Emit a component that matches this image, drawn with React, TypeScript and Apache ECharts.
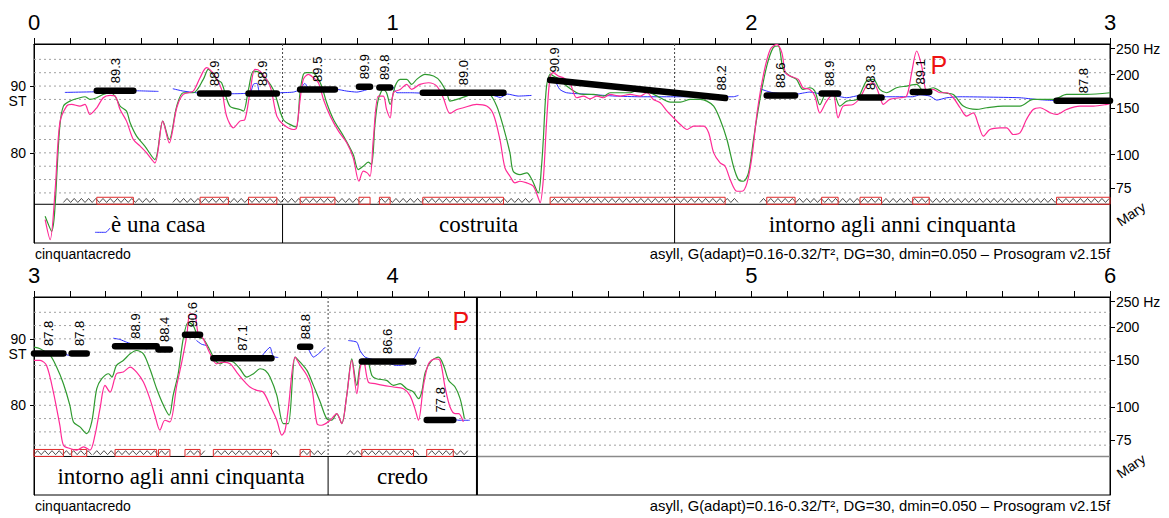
import { useEffect, useRef } from "react";
import * as echarts from "echarts";

type Pt = [number, number];

const ST_MIN = 66.5;
const ST_MAX = 96.3;
const TIER_TOP = 72.3;
const hzTicks = [75, 100, 150, 200, 250];
const stLabels = [80, 90];
const gridLevels = [74, 76, 78, 80, 82, 84, 86, 88, 90, 92, 94];
const timeLabels1 = [0, 1, 2, 3];
const timeLabels2 = [3, 4, 5, 6];

// ---------- panel 1 (0 - 3 s) ----------
const green1: Pt[] = [
  [0.031, 70.5], [0.049, 68.25], [0.072, 84.0], [0.082, 87.0], [0.1, 87.75], [0.128, 88.25], [0.142, 88.4], [0.156, 88.0],
  [0.175, 88.25], [0.193, 88.75], [0.212, 89.0], [0.226, 88.5], [0.24, 87.0], [0.258, 86.25], [0.268, 84.5], [0.286, 82.5],
  [0.309, 81.0], [0.337, 79.0], [0.359, 84.75], [0.377, 82.0], [0.398, 87.0], [0.416, 89.0], [0.444, 89.0], [0.472, 91.0],
  [0.486, 92.5], [0.509, 91.0], [0.523, 90.5], [0.546, 87.0], [0.574, 86.5], [0.584, 86.25], [0.598, 89.5], [0.612, 92.25],
  [0.63, 92.0], [0.667, 89.5], [0.695, 85.0], [0.723, 84.0], [0.732, 83.9], [0.742, 89.2], [0.751, 91.75], [0.76, 92.0],
  [0.774, 92.0], [0.788, 91.5], [0.802, 90.0], [0.816, 87.5], [0.835, 85.0], [0.863, 82.5], [0.89, 79.75], [0.904, 77.5],
  [0.918, 78.0], [0.932, 78.6], [0.941, 78.25], [0.951, 84.5], [0.96, 88.0], [0.974, 89.5], [0.983, 89.0], [0.993, 87.25],
  [1.007, 90.0], [1.021, 91.0], [1.039, 91.0], [1.053, 90.25], [1.067, 91.0], [1.09, 91.75], [1.114, 91.5], [1.132, 90.75],
  [1.151, 89.0], [1.16, 87.75], [1.179, 88.0], [1.206, 88.5], [1.243, 89.25], [1.271, 88.75], [1.29, 87.0], [1.308, 84.0],
  [1.327, 80.0], [1.336, 77.25], [1.355, 76.75], [1.374, 77.0], [1.388, 76.0], [1.406, 74.0], [1.415, 78.0], [1.42, 82.0],
  [1.429, 90.0], [1.44, 91.8], [1.448, 91.5], [1.466, 91.0], [1.485, 90.0], [1.513, 89.0], [1.532, 88.75], [1.56, 88.75],
  [1.588, 88.5], [1.606, 89.0], [1.634, 89.0], [1.662, 89.0], [1.69, 89.5], [1.718, 89.0], [1.746, 88.25], [1.774, 87.6],
  [1.802, 87.6], [1.83, 88.0], [1.858, 88.0], [1.876, 87.75], [1.895, 87.0], [1.913, 85.0], [1.932, 82.0], [1.95, 78.0],
  [1.964, 76.0], [1.978, 75.75], [1.992, 77.0], [2.006, 82.0], [2.024, 88.0], [2.043, 93.0], [2.061, 95.75], [2.075, 96.0],
  [2.089, 92.5], [2.108, 91.5], [2.126, 91.0], [2.144, 89.5], [2.163, 89.75], [2.177, 89.25], [2.191, 87.2], [2.21, 89.0],
  [2.228, 89.0], [2.247, 87.0], [2.266, 87.75], [2.294, 88.0], [2.321, 90.75], [2.34, 91.0], [2.358, 89.5], [2.377, 89.0],
  [2.405, 89.75], [2.433, 90.0], [2.461, 90.25], [2.48, 89.25], [2.507, 89.75], [2.535, 89.0], [2.563, 88.75], [2.591, 87.0],
  [2.628, 86.5], [2.656, 86.75], [2.702, 87.0], [2.749, 87.0], [2.786, 88.0], [2.842, 88.0], [2.879, 88.75], [2.935, 88.75],
  [3.0, 89.0],
];

const pink1: Pt[] = [
  [0.031, 70.0], [0.045, 67.0], [0.059, 74.5], [0.072, 84.5], [0.091, 87.0], [0.105, 87.25], [0.128, 87.0], [0.142, 87.25],
  [0.156, 85.75], [0.175, 86.75], [0.193, 88.25], [0.212, 88.6], [0.226, 88.5], [0.24, 86.5], [0.258, 84.75], [0.277, 82.0],
  [0.296, 81.0], [0.314, 80.0], [0.337, 78.5], [0.359, 84.75], [0.377, 81.5], [0.398, 86.75], [0.416, 88.75], [0.444, 89.25],
  [0.463, 91.25], [0.481, 92.75], [0.505, 91.5], [0.523, 89.5], [0.537, 85.5], [0.556, 83.75], [0.574, 84.75], [0.588, 85.0],
  [0.602, 89.0], [0.616, 92.5], [0.63, 92.25], [0.658, 90.0], [0.677, 85.5], [0.695, 84.25], [0.723, 83.5], [0.732, 83.75],
  [0.742, 88.0], [0.751, 91.0], [0.765, 91.75], [0.779, 91.25], [0.793, 90.5], [0.807, 88.0], [0.826, 85.5], [0.849, 83.25],
  [0.872, 81.5], [0.89, 79.25], [0.906, 75.75], [0.918, 77.25], [0.929, 77.0], [0.937, 76.5], [0.946, 82.0], [0.96, 88.5],
  [0.974, 88.5], [0.983, 86.5], [0.993, 85.25], [1.002, 89.0], [1.021, 89.5], [1.039, 90.25], [1.053, 89.5], [1.076, 90.25],
  [1.1, 90.5], [1.123, 90.0], [1.141, 88.25], [1.16, 85.9], [1.179, 86.5], [1.197, 86.75], [1.234, 87.25], [1.262, 87.0],
  [1.281, 85.75], [1.299, 82.0], [1.313, 77.75], [1.327, 76.5], [1.341, 75.5], [1.355, 75.75], [1.374, 75.5], [1.392, 75.0],
  [1.406, 73.25], [1.411, 72.5], [1.42, 76.0], [1.429, 84.5], [1.439, 91.5], [1.448, 92.0], [1.462, 91.5], [1.476, 91.25],
  [1.494, 90.5], [1.513, 88.25], [1.532, 88.5], [1.55, 88.1], [1.569, 88.5], [1.588, 88.25], [1.606, 88.75], [1.634, 88.5],
  [1.662, 88.75], [1.69, 88.5], [1.709, 89.0], [1.727, 88.0], [1.746, 87.5], [1.765, 86.25], [1.783, 85.25], [1.802, 84.25],
  [1.821, 83.5], [1.839, 84.0], [1.867, 84.0], [1.881, 83.0], [1.895, 80.0], [1.913, 78.5], [1.927, 78.0], [1.941, 76.0],
  [1.96, 74.25], [1.974, 74.25], [1.988, 75.5], [2.002, 79.5], [2.016, 86.0], [2.035, 92.0], [2.053, 95.5], [2.071, 96.25],
  [2.085, 95.0], [2.095, 92.0], [2.108, 91.5], [2.131, 91.0], [2.144, 89.75], [2.163, 89.5], [2.177, 88.5], [2.191, 86.0],
  [2.21, 87.75], [2.228, 88.75], [2.242, 85.25], [2.256, 87.0], [2.284, 87.25], [2.303, 88.25], [2.321, 90.0], [2.34, 90.5],
  [2.358, 88.5], [2.368, 87.25], [2.386, 88.0], [2.414, 88.25], [2.433, 88.5], [2.447, 92.0], [2.461, 95.25], [2.475, 93.0],
  [2.489, 89.25], [2.507, 89.5], [2.526, 89.0], [2.545, 89.0], [2.563, 88.25], [2.582, 86.75], [2.6, 85.5], [2.619, 86.0],
  [2.633, 84.25], [2.647, 82.5], [2.665, 83.5], [2.693, 83.75], [2.712, 83.75], [2.73, 82.75], [2.749, 83.0], [2.767, 85.0],
  [2.786, 86.5], [2.805, 86.75], [2.833, 86.0], [2.851, 85.75], [2.879, 86.5], [2.916, 87.0], [2.954, 87.0], [2.991, 87.25],
  [3.0, 87.4],
];

const blue1A: Pt[] = [[0.086, 89.05], [0.175, 89.15], [0.277, 89.3], [0.347, 89.2]];
const blue1Tier: Pt[] = [[0.17, 68.1], [0.2, 68.1], [0.212, 68.75]];
const blue1B: Pt[] = [
  [0.387, 89.6], [0.416, 89.25], [0.453, 89.0], [0.5, 88.9], [0.546, 88.85], [0.602, 89.0], [0.612, 90.3], [0.622, 90.4],
  [0.63, 89.0], [0.677, 89.0], [0.723, 89.1], [0.742, 89.5], [0.755, 90.4], [0.769, 89.5], [0.844, 89.5], [0.872, 89.25],
  [0.9, 89.1], [0.937, 89.6],
];
const blue1C: Pt[] = [
  [0.96, 89.7], [0.983, 89.9], [0.998, 90.0], [1.012, 89.0], [1.05, 89.0], [1.1, 88.9], [1.2, 88.8], [1.28, 88.6],
  [1.3, 88.3], [1.32, 88.8], [1.35, 88.5], [1.387, 88.6],
];
const blue1D: Pt[] = [
  [1.439, 91.0], [1.452, 90.8], [1.466, 89.5], [1.485, 89.0], [1.55, 88.75], [1.62, 88.5], [1.69, 88.4], [1.783, 88.4],
  [1.88, 88.4], [1.95, 88.4], [1.964, 88.6],
];
const blue1E: Pt[] = [
  [2.024, 89.6], [2.043, 89.25], [2.061, 89.0], [2.121, 88.75], [2.149, 89.0], [2.163, 89.1], [2.2, 88.75], [2.238, 88.5],
  [2.266, 88.25], [2.303, 88.6], [2.377, 88.4], [2.45, 88.4], [2.47, 88.7], [2.498, 88.5], [2.517, 87.9], [2.545, 88.25],
  [2.582, 88.4], [2.656, 88.35], [2.749, 88.25], [2.795, 88.0], [2.842, 87.85], [2.916, 87.9], [3.0, 87.9],
];

// nuclei: [start, end, value at start, value at end] (ST)
const nuclei1: number[][] = [
  [0.175, 0.277, 89.3, 89.3], [0.463, 0.542, 88.9, 88.9], [0.598, 0.677, 88.9, 88.9], [0.742, 0.839, 89.5, 89.5],
  [0.906, 0.937, 89.9, 89.9], [0.963, 0.993, 89.8, 89.8], [1.084, 1.309, 89.0, 89.0], [1.439, 1.927, 90.9, 88.2],
  [2.043, 2.122, 88.6, 88.6], [2.196, 2.242, 88.9, 88.9], [2.303, 2.363, 88.3, 88.3], [2.45, 2.496, 89.1, 89.1],
  [2.851, 3.0, 87.8, 87.8],
];
const voiced1: number[][] = [[0.082, 0.347], [0.387, 0.928], [0.959, 1.391], [1.441, 1.963], [2.024, 3.0]];
const words1: [number, number, string][] = [
  [0, 0.693, "è una casa"], [0.693, 1.786, "costruita"], [1.786, 3.0, "intorno agli anni cinquanta"],
];
const marks1: Pt[] = [[2.523, 93.2]];

// ---------- panel 2 (3 - 6 s) ----------
const green2: Pt[] = [
  [3.0, 88.75], [3.017, 88.5], [3.045, 87.5], [3.063, 85.75], [3.082, 83.25], [3.1, 80.0], [3.11, 77.5], [3.128, 76.75],
  [3.147, 75.75], [3.161, 77.5], [3.175, 82.5], [3.189, 84.0], [3.208, 84.75], [3.217, 84.25], [3.23, 86.0], [3.249, 86.75],
  [3.268, 87.75], [3.286, 88.25], [3.305, 87.75], [3.323, 85.5], [3.342, 82.5], [3.361, 80.0], [3.377, 78.5], [3.388, 81.5],
  [3.402, 84.75], [3.416, 90.0], [3.43, 92.5], [3.444, 92.0], [3.458, 90.25], [3.472, 90.0], [3.491, 88.25], [3.505, 86.75],
  [3.519, 86.25], [3.537, 86.75], [3.556, 86.5], [3.574, 85.5], [3.593, 84.25], [3.612, 84.75], [3.63, 85.5], [3.645, 85.25],
  [3.658, 84.25], [3.677, 81.5], [3.695, 77.25], [3.709, 77.25], [3.728, 87.25], [3.742, 86.5], [3.761, 85.25], [3.779, 83.0],
  [3.798, 80.5], [3.816, 78.0], [3.83, 77.75], [3.844, 78.75], [3.858, 77.25], [3.872, 81.5], [3.886, 87.0], [3.9, 83.0],
  [3.909, 86.0], [3.918, 86.75], [3.928, 87.0], [3.942, 84.5], [3.955, 84.0], [3.983, 83.75], [4.002, 83.0], [4.021, 83.25],
  [4.039, 82.5], [4.058, 82.0], [4.072, 81.0], [4.081, 82.0], [4.091, 85.0], [4.109, 86.75], [4.128, 87.25], [4.142, 86.0],
  [4.156, 83.75], [4.174, 82.75], [4.188, 81.0], [4.2, 78.0],
];
const pink2: Pt[] = [
  [3.0, 86.75], [3.017, 86.75], [3.035, 86.0], [3.054, 82.0], [3.072, 77.0], [3.082, 74.0], [3.1, 73.5], [3.119, 73.25],
  [3.138, 73.75], [3.156, 73.25], [3.17, 75.5], [3.184, 79.5], [3.198, 83.0], [3.212, 82.0], [3.23, 84.75], [3.249, 85.0],
  [3.268, 85.75], [3.286, 85.0], [3.305, 83.5], [3.323, 81.0], [3.337, 78.5], [3.351, 76.25], [3.365, 77.75], [3.379, 77.5],
  [3.398, 83.0], [3.412, 86.5], [3.426, 90.5], [3.435, 93.75], [3.449, 93.5], [3.458, 90.75], [3.472, 90.0], [3.491, 87.75],
  [3.509, 86.25], [3.528, 86.5], [3.547, 86.25], [3.565, 85.0], [3.584, 83.75], [3.602, 82.75], [3.621, 82.25], [3.639, 82.0],
  [3.658, 80.0], [3.677, 77.75], [3.691, 75.5], [3.7, 76.25], [3.709, 79.5], [3.728, 87.25], [3.742, 86.0], [3.761, 84.5],
  [3.775, 82.5], [3.789, 77.25], [3.802, 77.0], [3.826, 77.75], [3.844, 78.75], [3.858, 77.25], [3.872, 81.5], [3.886, 86.75],
  [3.9, 81.75], [3.909, 85.5], [3.918, 87.0], [3.932, 83.5], [3.951, 83.25], [3.974, 83.0], [4.002, 82.75], [4.03, 82.5],
  [4.048, 81.5], [4.062, 79.5], [4.072, 77.75], [4.086, 83.0], [4.1, 86.25], [4.118, 87.0], [4.132, 86.75], [4.146, 82.75],
  [4.16, 79.75], [4.174, 78.75], [4.184, 78.75], [4.197, 77.5],
];
const blue2A: Pt[] = [[3.08, 87.8], [3.1, 87.5], [3.115, 87.8]];
const blue2B: Pt[] = [[3.221, 90.1], [3.24, 89.9], [3.258, 89.5], [3.286, 89.0], [3.314, 88.5], [3.328, 88.75], [3.342, 88.65]];
const blue2C: Pt[] = [[3.453, 89.75], [3.467, 89.2], [3.481, 89.0]];
const blue2D: Pt[] = [[3.5, 87.1], [3.63, 87.2], [3.644, 88.0], [3.658, 88.75], [3.667, 87.35], [3.681, 87.2]];
const blue2E: Pt[] = [[3.765, 88.5], [3.779, 87.25], [3.793, 87.75], [3.812, 88.75]];
const blue2F: Pt[] = [
  [3.876, 89.75], [3.9, 89.5], [3.909, 88.25], [3.923, 87.25], [3.955, 86.75], [3.993, 86.25], [4.011, 86.0], [4.035, 86.1],
  [4.048, 86.5], [4.062, 87.25], [4.076, 88.75],
];
const blue2G: Pt[] = [[4.169, 77.9], [4.185, 77.75], [4.215, 77.75]];
const nuclei2: number[][] = [
  [3.0, 3.082, 87.8, 87.8], [3.105, 3.147, 87.8, 87.8], [3.226, 3.342, 88.9, 88.9], [3.347, 3.379, 88.4, 88.4],
  [3.421, 3.463, 90.6, 90.6], [3.5, 3.662, 87.1, 87.1], [3.742, 3.77, 88.8, 88.8], [3.914, 4.058, 86.6, 86.6],
  [4.095, 4.169, 77.8, 77.8],
];
const voiced2: number[][] = [[3.0, 3.161], [3.165, 3.379], [3.426, 3.486], [3.502, 3.686], [3.741, 3.816], [3.872, 4.076], [4.099, 4.211]];
const words2: [number, number, string][] = [[3.0, 3.82, "intorno agli anni cinquanta"], [3.82, 4.235, "credo"]];
const marks2: Pt[] = [[4.19, 92.7]];

const GREEN = "#2f9a2f";
const PINK = "#ff2a96";
const BLUE = "#2b2bff";
const SANS = '"Liberation Sans", Arial, sans-serif';
const SERIF = '"Liberation Serif", "Times New Roman", serif';
const W = 1169;
const H = 518;

const hzToSt = (hz: number) => 12 * Math.log2(hz);

interface Panel {
  start: number;
  end: number;
  signalEnd: number;
  timeLabels: number[];
  green: Pt[];
  pink: Pt[];
  blue: Pt[][];
  nuclei: number[][];
  voiced: number[][];
  words: [number, number, string][];
  marks: Pt[];
}

const panels: Panel[] = [
  {
    start: 0, end: 3, signalEnd: 3, timeLabels: timeLabels1, green: green1, pink: pink1,
    blue: [blue1A, blue1Tier, blue1B, blue1C, blue1D, blue1E], nuclei: nuclei1, voiced: voiced1, words: words1, marks: marks1,
  },
  {
    start: 3, end: 6, signalEnd: 4.235, timeLabels: timeLabels2, green: green2, pink: pink2,
    blue: [blue2A, blue2B, blue2C, blue2D, blue2E, blue2F, blue2G], nuclei: nuclei2, voiced: voiced2, words: words2, marks: marks2,
  },
];

const gridBoxes = [
  { left: 34, top: 44, width: 1076, height: 199 },
  { left: 34, top: 297, width: 1076, height: 198 },
];

function buildOption() {
  const grid: any[] = [];
  const xAxis: any[] = [];
  const yAxis: any[] = [];
  const series: any[] = [];

  panels.forEach((p, i) => {
    grid.push({ ...gridBoxes[i], show: true, borderColor: "#000", borderWidth: 1, backgroundColor: "transparent" });
    xAxis.push({
      gridIndex: i, type: "value", position: "top", min: p.start, max: p.end, interval: 0.1,
      axisLine: { show: true, lineStyle: { color: "#000", width: 1 } },
      axisTick: { show: true, inside: false, length: 6, lineStyle: { color: "#000", width: 1 } },
      axisLabel: {
        customValues: p.timeLabels, formatter: (v: number) => String(Math.round(v)),
        fontSize: 22, color: "#000", margin: 11, fontFamily: SANS, showMinLabel: true, showMaxLabel: true,
      },
      splitLine: { show: false },
    });
    yAxis.push({
      gridIndex: i, type: "value", position: "left", min: ST_MIN, max: ST_MAX,
      axisLine: { show: true, lineStyle: { color: "#000" } },
      axisTick: { show: true, customValues: stLabels, length: 4, lineStyle: { color: "#000" } },
      axisLabel: { customValues: stLabels, formatter: (v: number) => String(Math.round(v)), fontSize: 14, color: "#000", margin: 8, fontFamily: SANS },
      splitLine: { show: false },
    });
    const hzSt = hzTicks.map(hzToSt);
    yAxis.push({
      gridIndex: i, type: "value", position: "right", min: ST_MIN, max: ST_MAX,
      axisLine: { show: true, lineStyle: { color: "#000" } },
      axisTick: { show: true, customValues: hzSt, length: 5, lineStyle: { color: "#000" } },
      axisLabel: {
        customValues: hzSt,
        formatter: (v: number) => {
          const hz = Math.round(Math.pow(2, v / 12));
          return hz === 250 ? "250 Hz" : String(hz);
        },
        fontSize: 14, color: "#000", margin: 6, fontFamily: SANS,
      },
      splitLine: { show: false },
    });

    const ax = { xAxisIndex: i, yAxisIndex: 2 * i };

    // dotted horizontal grid lines
    series.push({
      type: "custom", ...ax, silent: true, z: 1,
      data: gridLevels.map((v) => [p.start, v]),
      renderItem: (params: any, api: any) => {
        const cs = params.coordSys;
        const y = api.coord([api.value(0), api.value(1)])[1];
        return {
          type: "line", shape: { x1: cs.x, y1: y, x2: cs.x + cs.width, y2: y },
          style: { stroke: "#a0a0a0", lineWidth: 1, lineDash: [2, 3] },
        };
      },
    });

    // tier separator line
    series.push({
      type: "custom", ...ax, silent: true, z: 3,
      data: [[p.start, TIER_TOP, p.signalEnd]],
      renderItem: (params: any, api: any) => {
        const cs = params.coordSys;
        const a = api.coord([api.value(0), api.value(1)]);
        const e = api.coord([api.value(2), api.value(1)]);
        const children: any[] = [
          { type: "line", shape: { x1: cs.x, y1: a[1], x2: e[0], y2: a[1] }, style: { stroke: "#000", lineWidth: 1 } },
        ];
        if (e[0] < cs.x + cs.width - 1) {
          children.push({ type: "line", shape: { x1: e[0], y1: a[1], x2: cs.x + cs.width, y2: a[1] }, style: { stroke: "#8a8a8a", lineWidth: 1.5 } });
        }
        return { type: "group", children };
      },
    });

    // tier words and boundaries
    series.push({
      type: "custom", ...ax, silent: true, z: 3,
      data: p.words.map((w, k) => [w[0], w[1], k]),
      renderItem: (params: any, api: any) => {
        const cs = params.coordSys;
        const t0 = api.value(0);
        const t1 = api.value(1);
        const k = api.value(2);
        const a = api.coord([t0, TIER_TOP]);
        const b = api.coord([t1, ST_MIN]);
        const children: any[] = [
          {
            type: "text", x: (a[0] + b[0]) / 2, y: (a[1] + b[1]) / 2 + 1,
            style: { text: p.words[k][2], fill: "#000", fontSize: 23, fontFamily: SERIF, align: "center", verticalAlign: "middle" },
          },
        ];
        if (t1 < p.end - 1e-6 && t1 < p.signalEnd - 1e-6) {
          children.push({ type: "line", shape: { x1: b[0], y1: a[1], x2: b[0], y2: b[1] }, style: { stroke: "#000", lineWidth: 1 } });
          children.push({ type: "line", shape: { x1: b[0], y1: cs.y, x2: b[0], y2: a[1] }, style: { stroke: "#444", lineWidth: 1, lineDash: [2, 2] } });
        }
        return { type: "group", children };
      },
    });

    // syllable zigzags
    series.push({
      type: "custom", ...ax, silent: true, z: 3,
      data: p.voiced,
      renderItem: (_params: any, api: any) => {
        const a = api.coord([api.value(0), TIER_TOP]);
        const b = api.coord([api.value(1), TIER_TOP]);
        const pts: number[][] = [];
        let k = 0;
        for (let x = a[0]; x <= b[0]; x += 3.6, k++) pts.push([x, k % 2 === 0 ? a[1] - 1.8 : a[1] - 5.8]);
        return { type: "polyline", shape: { points: pts }, style: { stroke: "#222", lineWidth: 0.8, fill: "none" } };
      },
    });

    // nucleus boxes
    series.push({
      type: "custom", ...ax, silent: true, z: 3,
      data: p.nuclei.map((n) => [n[0], n[1]]),
      renderItem: (_params: any, api: any) => {
        const a = api.coord([api.value(0), TIER_TOP]);
        const b = api.coord([api.value(1), TIER_TOP]);
        return {
          type: "rect", shape: { x: a[0], y: a[1] - 7, width: b[0] - a[0], height: 7 },
          style: { stroke: "#e02a2a", lineWidth: 1, fill: "none" },
        };
      },
    });

    // pitch curves
    p.blue.forEach((b) => {
      series.push({
        type: "line", ...ax, data: b, showSymbol: false, smooth: 0.2, silent: true, z: 4,
        lineStyle: { color: BLUE, width: 1 }, itemStyle: { color: BLUE },
      });
    });
    series.push({
      type: "line", ...ax, data: p.green, showSymbol: false, smooth: 0.3, silent: true, z: 4,
      lineStyle: { color: GREEN, width: 1.2 }, itemStyle: { color: GREEN },
    });
    series.push({
      type: "line", ...ax, data: p.pink, showSymbol: false, smooth: 0.3, silent: true, z: 4,
      lineStyle: { color: PINK, width: 1.2 }, itemStyle: { color: PINK },
    });

    // stylized nuclei with values
    series.push({
      type: "custom", ...ax, silent: true, z: 6,
      data: p.nuclei,
      renderItem: (_params: any, api: any) => {
        const t0 = api.value(0), t1 = api.value(1), v0 = api.value(2), v1 = api.value(3);
        const a = api.coord([t0, v0]);
        const b = api.coord([t1, v1]);
        const lab = (x: number, y: number, v: number) => ({
          type: "text", x, y: y - 7.5, rotation: Math.PI / 2,
          style: { text: v.toFixed(1), fill: "#000", fontSize: 13, fontFamily: SANS, align: "left", verticalAlign: "middle" },
        });
        const children: any[] = [
          { type: "line", shape: { x1: a[0], y1: a[1], x2: b[0], y2: b[1] }, style: { stroke: "#000", lineWidth: 6.5, lineCap: "round" } },
        ];
        if (Math.abs(v0 - v1) < 1e-6) {
          children.push(lab((a[0] + b[0]) / 2, a[1], v0));
        } else {
          children.push(lab(a[0] + 4, a[1], v0));
          children.push(lab(b[0] - 4, b[1], v1));
        }
        return { type: "group", children };
      },
    });

    // prominence marks
    series.push({
      type: "custom", ...ax, silent: true, z: 6,
      data: p.marks,
      renderItem: (_params: any, api: any) => {
        const c = api.coord([api.value(0), api.value(1)]);
        return {
          type: "text", x: c[0], y: c[1],
          style: { text: "P", fill: "#ee1111", fontSize: 25, fontFamily: SANS, align: "center", verticalAlign: "middle" },
        };
      },
    });

    // end of signal
    if (p.signalEnd < p.end) {
      series.push({
        type: "custom", ...ax, silent: true, z: 6,
        data: [[p.signalEnd, ST_MIN]],
        renderItem: (params: any, api: any) => {
          const cs = params.coordSys;
          const x = api.coord([api.value(0), api.value(1)])[0];
          return { type: "line", shape: { x1: x, y1: cs.y, x2: x, y2: cs.y + cs.height }, style: { stroke: "#000", lineWidth: 2 } };
        },
      });
    }
  });

  const footer = "asyll, G(adapt)=0.16-0.32/T², DG=30, dmin=0.050 – Prosogram v2.15f";
  const graphic: any[] = [];
  [0, 1].forEach((i) => {
    const g = gridBoxes[i];
    const y90 = g.top + ((ST_MAX - 90) / (ST_MAX - ST_MIN)) * g.height;
    graphic.push({ type: "text", x: 17.5, y: y90 + 15, style: { text: "ST", fill: "#000", fontSize: 14, fontFamily: SANS, align: "center", verticalAlign: "middle" } });
    graphic.push({ type: "text", x: 1131, y: g.top + g.height - 29, rotation: 0.6, style: { text: "Mary", fill: "#000", fontSize: 14, fontFamily: SANS, align: "center", verticalAlign: "middle" } });
    graphic.push({ type: "text", x: 35, y: g.top + g.height + 11, style: { text: "cinquantacredo", fill: "#000", fontSize: 14, fontFamily: SANS, align: "left", verticalAlign: "middle" } });
    graphic.push({ type: "text", x: 1110, y: g.top + g.height + 11, style: { text: footer, fill: "#000", fontSize: 14.8, fontFamily: SANS, align: "right", verticalAlign: "middle" } });
  });

  return { animation: false, backgroundColor: "#fff", grid, xAxis, yAxis, series, graphic };
}

export default function App() {
  const ref = useRef<HTMLDivElement>(null);
  useEffect(() => {
    const el = ref.current;
    if (!el) return;
    const chart = echarts.init(el, null, { renderer: "svg", width: W, height: H });
    chart.setOption(buildOption() as any);
    return () => chart.dispose();
  }, []);
  return <div ref={ref} style={{ position: "absolute", left: 0, top: 0, width: W, height: H, background: "#fff" }} />;
}
